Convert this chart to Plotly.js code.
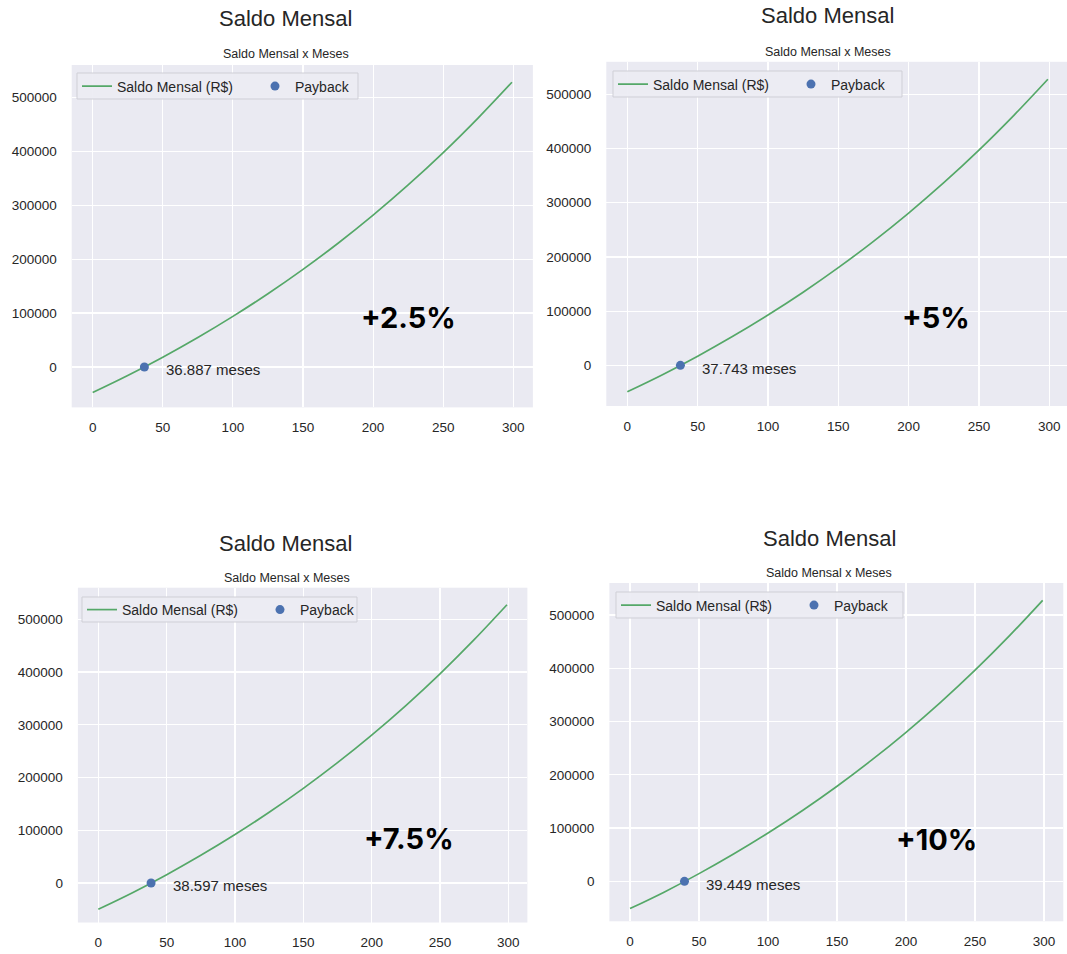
<!DOCTYPE html>
<html>
<head>
<meta charset="utf-8">
<script src="https://cdn.plot.ly/plotly-3.0.1.min.js"></script>
<style>
  html, body { margin: 0; padding: 0; background: #ffffff; }
  #chart { width: 1067px; height: 954px; }
</style>
</head>
<body>
<div id="chart"></div>
<script>
// ---- Data ----
const months = [0, 25, 50, 75, 100, 125, 150, 175, 200, 225, 250, 275, 299];
const saldo_2_5 = [-47500, -15900, 18100, 54600, 93800, 135800, 181000, 229500, 281600, 337500, 397500, 462000, 528000];
const saldo_5   = [-48700, -17200, 16900, 53500, 92800, 134900, 180200, 228800, 281000, 337000, 397100, 461700, 527800];
const saldo_7_5 = [-49900, -18500, 15700, 52400, 91800, 134000, 179400, 228100, 280400, 336500, 396700, 461400, 527600];
const saldo_10  = [-51100, -19800, 14500, 51300, 90800, 133100, 178600, 227400, 279800, 336000, 396300, 461100, 527400];
const paybackMonths = [36.887, 37.743, 38.597, 39.449];
const paybackValue = 0;
const scenarioLabels = ['+2.5%', '+5%', '+7.5%', '+10%'];
const paybackLabels = ['36.887 meses', '37.743 meses', '38.597 meses', '39.449 meses'];
const seriesName = 'Saldo Mensal (R$)';
const pointName = 'Payback';
const mainTitle = 'Saldo Mensal';
const subTitle = 'Saldo Mensal x Meses';
const xTicks = [0, 50, 100, 150, 200, 250, 300];
const yTicks = [0, 100000, 200000, 300000, 400000, 500000];

const allSaldo = [saldo_2_5, saldo_5, saldo_7_5, saldo_10];

// ---- Layout geometry (pixels in a 1067x954 page) ----
const W = 1067, H = 954;
const px = v => v / W;
const py = v => 1 - v / H;

const panels = [
  {l: 71.7, r: 532.9, t: 65, b: 407.4, xr: [-14.95, 313.95], yr: [-75000, 560000],
   title: [285, 19], sub: [285.5, 54], box: [77, 73, 358, 99], big: [408, 318]},
  {l: 606.3, r: 1067, t: 61.8, b: 406, xr: [-14.95, 312.6], yr: [-75000, 560000],
   title: [827, 16], sub: [828, 52], box: [613, 71, 902, 97], big: [936, 318]},
  {l: 77.9, r: 527.4, t: 587.7, b: 922.5, xr: [-14.95, 313.95], yr: [-75000, 560000],
   title: [285.5, 543], sub: [286.5, 578], box: [82, 597, 357, 622], big: [409, 838]},
  {l: 609.4, r: 1063.3, t: 583, b: 921.3, xr: [-14.95, 313.95], yr: [-75000, 560000],
   title: [829, 538], sub: [829, 573], box: [616, 592, 903, 618], big: [936, 839]}
];

const FONT = 'Liberation Sans, Arial, Helvetica, sans-serif';
const TXT = '#262626';
const GREEN = '#55a868';
const BLUE = '#4c72b0';
const BG = '#eaeaf2';

const data = [];
const layout = {
  width: W, height: H,
  margin: {l: 0, r: 0, t: 0, b: 0},
  paper_bgcolor: '#ffffff',
  plot_bgcolor: BG,
  showlegend: true,
  font: {family: FONT, color: TXT},
  annotations: [],
  shapes: []
};

panels.forEach((p, i) => {
  const n = i + 1;
  const xa = n === 1 ? 'x' : 'x' + n;
  const ya = n === 1 ? 'y' : 'y' + n;
  const legKey = n === 1 ? 'legend' : 'legend' + n;

  data.push({
    type: 'scatter', mode: 'lines', name: seriesName,
    x: months, y: allSaldo[i],
    line: {color: GREEN, width: 1.7, shape: 'spline', smoothing: 1},
    xaxis: xa, yaxis: ya, legend: legKey, showlegend: true
  });
  data.push({
    type: 'scatter', mode: 'markers', name: pointName,
    x: [paybackMonths[i]], y: [paybackValue],
    marker: {color: BLUE, size: 9},
    xaxis: xa, yaxis: ya, legend: legKey, showlegend: true
  });

  const xKey = n === 1 ? 'xaxis' : 'xaxis' + n;
  const yKey = n === 1 ? 'yaxis' : 'yaxis' + n;
  layout[xKey] = {
    domain: [px(p.l), px(p.r)], range: p.xr, anchor: ya,
    tickvals: xTicks, tickformat: 'd',
    showgrid: true, gridcolor: '#ffffff', gridwidth: 1.2,
    zeroline: false, showline: false, ticks: '',
    ticklabelstandoff: 10,
    tickfont: {family: FONT, size: 13.5, color: TXT}
  };
  layout[yKey] = {
    domain: [py(p.b), py(p.t)], range: p.yr, anchor: xa,
    tickvals: yTicks, tickformat: 'd',
    showgrid: true, gridcolor: '#ffffff', gridwidth: 1.2,
    zeroline: false, showline: false, ticks: '',
    ticklabelstandoff: 14,
    tickfont: {family: FONT, size: 13.5, color: TXT}
  };

  // legend frame
  const [bx0, by0, bx1, by1] = p.box;
  layout.shapes.push({
    type: 'rect', xref: 'paper', yref: 'paper', layer: 'above',
    x0: px(bx0), x1: px(bx1), y0: py(by1), y1: py(by0),
    fillcolor: 'rgba(236,236,243,0.92)',
    line: {color: '#cfcfd6', width: 1}
  });
  layout[legKey] = {
    x: px(bx0), y: py((by0 + by1) / 2 + 0.5), xanchor: 'left', yanchor: 'middle',
    xref: 'paper', yref: 'paper',
    orientation: 'h',
    bgcolor: 'rgba(0,0,0,0)', borderwidth: 0,
    font: {family: FONT, size: 14, color: TXT},
    entrywidth: 133, entrywidthmode: 'pixels',
    itemwidth: 30
  };

  layout.annotations.push({
    xref: 'paper', yref: 'paper', x: px(p.title[0]), y: py(p.title[1]),
    xanchor: 'center', yanchor: 'middle', showarrow: false,
    text: mainTitle, font: {family: FONT, size: 22, color: TXT}
  });
  layout.annotations.push({
    xref: 'paper', yref: 'paper', x: px(p.sub[0]), y: py(p.sub[1]),
    xanchor: 'center', yanchor: 'middle', showarrow: false,
    text: subTitle, font: {family: FONT, size: 12.5, color: TXT}
  });
  layout.annotations.push({
    xref: 'paper', yref: 'paper', x: px(p.big[0]), y: py(p.big[1]),
    xanchor: 'center', yanchor: 'middle', showarrow: false,
    text: '<b>' + scenarioLabels[i] + '</b>',
    font: {family: 'Inter, Lato, sans-serif', size: 29, color: '#000000'}
  });
  layout.annotations.push({
    xref: xa, yref: ya, x: paybackMonths[i], y: paybackValue,
    xanchor: 'left', yanchor: 'middle', xshift: 20, yshift: -3,
    showarrow: false, text: paybackLabels[i],
    font: {family: FONT, size: 15, color: TXT}
  });
});

Plotly.newPlot('chart', data, layout, {displayModeBar: false, staticPlot: true});
</script>
</body>
</html>
